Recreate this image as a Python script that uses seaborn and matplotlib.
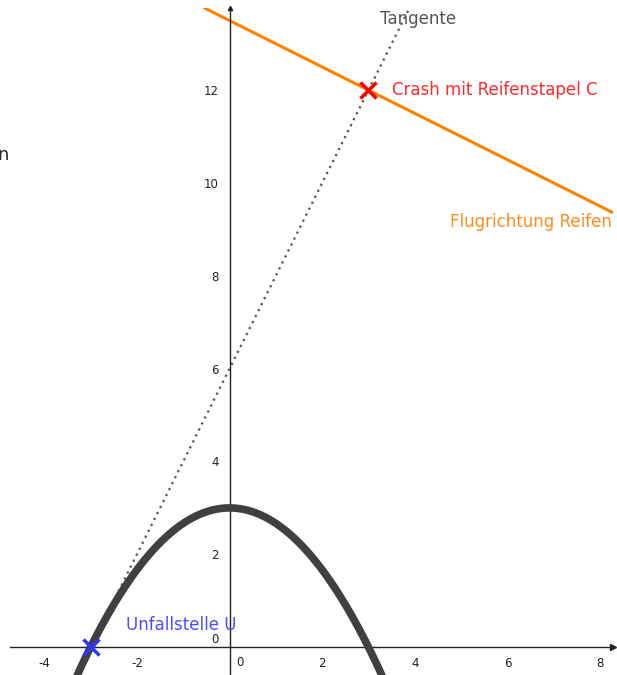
import numpy as np
import pandas as pd
import matplotlib
matplotlib.use('Agg')
import matplotlib.pyplot as plt
import seaborn as sns

# Parabel f(x) = a*x^2 + b*x + c
parabel_coeffs = [-1 / 3, 0, 3]
# Tangente in U: y = m*x + n
tangente = [2, 6]
# Flugrichtung Reifen: y = m*x + n
flugrichtung = [-0.5, 13.5]
# Punkte
unfall_x, unfall_y = [-3], [0]
crash_x, crash_y = [3], [12]
x_ticks = [-4, -2, 2, 4, 6, 8]
y_ticks = [2, 4, 6, 8, 10, 12]

sns.set_style("white")
plt.rcParams['font.family'] = ['DejaVu Sans']
plt.rcParams['axes.unicode_minus'] = False

fig = plt.figure(figsize=(6.17, 6.75), dpi=100)
ax = fig.add_axes([10 / 617, 0, 603 / 617, 667 / 675])
ax.set_xlim(-4.74, 8.28)
ax.set_ylim(-0.60, 13.77)

# Parabel
xs = np.linspace(-4.74, 8.28, 400)
df = pd.DataFrame({"x": xs, "y": np.polyval(parabel_coeffs, xs)})
sns.lineplot(data=df, x="x", y="y", ax=ax, color="#404040", lw=5.5, zorder=3)

# Tangente (gepunktet) und Flugrichtung
ax.axline((0, tangente[1]), slope=tangente[0], color="#555555", lw=1.6,
          ls=(0, (1, 2)), zorder=2)
ax.axline((0, flugrichtung[1]), slope=flugrichtung[0], color="#FF7F00", lw=2.2, zorder=2)

# Punkte
ax.plot(unfall_x, unfall_y, marker="x", ms=12, mew=2.5, color="#3333FF", ls="none", zorder=5)
ax.plot(crash_x, crash_y, marker="x", ms=12, mew=2.5, color="#FF0000", ls="none", zorder=5)

# Beschriftungen
ax.text(3.25, 13.53, "Tangente", color="#555555", fontsize=12, va="center")
ax.text(3.51, 12.0, "Crash mit Reifenstapel C", color="#FF2A2A", fontsize=12, va="center")
ax.text(8.25, 9.16, "Flugrichtung Reifen", color="#FF8C1A", fontsize=12, va="center", ha="right")
ax.text(-2.24, 0.47, "Unfallstelle U", color="#4D4DFF", fontsize=12, va="center")

# Achsen durch den Ursprung
for s in ["top", "right"]:
    ax.spines[s].set_visible(False)
ax.spines["left"].set_position(("data", 0))
ax.spines["bottom"].set_position(("data", 0))
for s in ["left", "bottom"]:
    ax.spines[s].set_color("#222222")
    ax.spines[s].set_linewidth(1.0)
ax.plot(1, 0, ">", transform=ax.get_yaxis_transform(), clip_on=False, color="#222222", ms=4)
ax.plot(0, 1, "^", transform=ax.get_xaxis_transform(), clip_on=False, color="#222222", ms=3)

ax.set_xticks(x_ticks)
ax.set_yticks(y_ticks)
ax.tick_params(axis="both", direction="out", length=4, width=1, color="#222222",
               labelsize=8.5, labelcolor="#222222")
ax.tick_params(axis="x", pad=3)
ax.tick_params(axis="y", pad=4)
ax.text(0.22, -0.32, "0", fontsize=8.5, color="#222222", va="center", ha="center")
ax.text(-0.31, 0.17, "0", fontsize=8.5, color="#222222", va="center", ha="center")
ax.set_xlabel("")
ax.set_ylabel("")

# abgeschnittener Text am linken Rand
fig.text(-0.004, 1 - 155 / 675, "n", fontsize=13, va="center", ha="left")

fig.savefig("out.png", dpi=100)
